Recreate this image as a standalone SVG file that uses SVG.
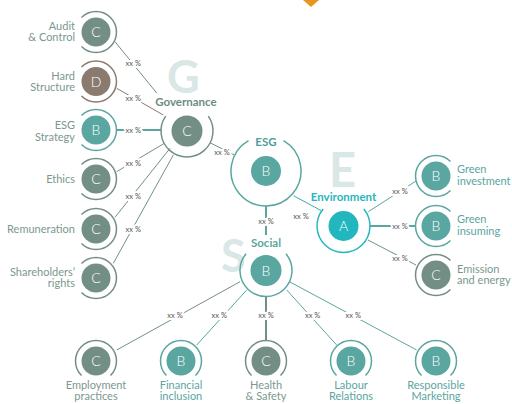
<svg xmlns="http://www.w3.org/2000/svg" width="512" height="404" viewBox="0 0 512 404">
<defs>
<style>
.bg{fill:#ffffff}
.big{font-family:Lato,"Open Sans",sans-serif;font-weight:700;fill:#d9e8e6}
.lbl{font-family:Lato,"Open Sans",sans-serif;font-size:11px}
.head{font-family:Lato,"Open Sans",sans-serif;font-size:11.5px;font-weight:700;text-anchor:middle}
.let{font-family:Lato,"Open Sans",sans-serif;font-size:14px;font-weight:300;fill:#ffffff;text-anchor:middle}
.pct{font-family:Lato,"Open Sans",sans-serif;font-size:7.5px;fill:#555555;text-anchor:middle;stroke:#ffffff;stroke-width:4px;paint-order:stroke;stroke-linejoin:round}
.ring{fill:none;stroke-width:1.5}
.cC{fill:#738f85}.sC{stroke:#738f85}
.cB{fill:#5aa6a0}.sB{stroke:#5aa6a0}
.cD{fill:#8a7b6e}.sD{stroke:#8a7b6e}
.cA{fill:#22b6bf}.sA{stroke:#22b6bf}
.tG{fill:#7b988f}.tB{fill:#5aa6a0}
.ln{fill:none;stroke-width:1}
.thk{stroke-width:2}
</style>
</defs>
<rect class="bg" x="0" y="0" width="512" height="404"/>
<polygon points="303,0 319,0 311,7" fill="#e8961e"/>

<g id="bigletters">
<text class="big" x="167" y="93" font-size="45">G</text>
<text class="big" x="329" y="187" font-size="47">E</text>
<text class="big" x="221" y="272" font-size="45">S</text>
</g>

<g id="connectors">
<line class="ln sC" x1="115" y1="41.7" x2="156.7" y2="93"/>
<line class="ln sD" x1="116.7" y1="88.3" x2="163.3" y2="115"/>
<line class="ln sB thk" x1="117" y1="130" x2="161" y2="130"/>
<line class="ln sC" x1="116.7" y1="171.7" x2="164" y2="143.5"/>
<line class="ln sC" x1="115" y1="217.3" x2="170" y2="148.3"/>
<line class="ln sC" x1="113.3" y1="263.3" x2="173.3" y2="155"/>
<line class="ln sC" x1="210.2" y1="142.8" x2="234.8" y2="155.2"/>
<line class="ln" stroke="#3aaab0" x1="293.5" y1="195.7" x2="321" y2="210.5"/>
<line class="ln sB thk" x1="266" y1="206" x2="266" y2="235"/>
<line class="ln sB" x1="368.3" y1="211.7" x2="416" y2="181"/>
<line class="ln sB thk" x1="370" y1="226" x2="415.5" y2="226"/>
<line class="ln sC" x1="368" y1="240" x2="416" y2="265"/>
<line class="ln sC" x1="240" y1="281.7" x2="116.7" y2="350"/>
<line class="ln sB" x1="246.7" y1="290" x2="196.7" y2="345"/>
<line class="ln sC thk" x1="266" y1="296.5" x2="266" y2="340.5"/>
<line class="ln sB" x1="286.7" y1="290" x2="336.7" y2="345"/>
<line class="ln sB" x1="290" y1="282" x2="416.7" y2="350"/>
<text class="pct" x="133.3" y="66">xx %</text>
<text class="pct" x="133.3" y="100.5">xx %</text>
<text class="pct" x="133.3" y="132.5">xx %</text>
<text class="pct" x="133.3" y="166">xx %</text>
<text class="pct" x="133.3" y="199">xx %</text>
<text class="pct" x="133.3" y="231.5">xx %</text>
<text class="pct" x="222" y="154.5">xx %</text>
<text class="pct" x="301" y="218.5">xx %</text>
<text class="pct" x="266" y="223.5">xx %</text>
<text class="pct" x="400" y="194">xx %</text>
<text class="pct" x="400" y="228.5">xx %</text>
<text class="pct" x="400" y="260.5">xx %</text>
<text class="pct" x="175" y="318">xx %</text>
<text class="pct" x="219.3" y="318">xx %</text>
<text class="pct" x="266" y="318">xx %</text>
<text class="pct" x="312.7" y="318">xx %</text>
<text class="pct" x="353.3" y="318">xx %</text>
</g>

<g id="governance">
<path class="ring sC" stroke-width="2" d="M208.3 116.1 A26 26 0 1 1 165.7 116.1"/>
<circle class="cC" cx="187" cy="131" r="15.5"/>
<text class="let" x="187" y="136">C</text>
<text class="head" x="186" y="105.5" fill="#6e8c83">Governance</text>
</g>

<g id="esg">
<path class="ring sB" stroke-width="3" d="M283.5 140.7 A35 35 0 1 1 248.5 140.7"/>
<circle class="cB" cx="266" cy="171" r="15"/>
<text class="let" x="266" y="176">B</text>
<text class="head" x="266" y="145.5" font-size="12.5" fill="#4f9e99">ESG</text>
</g>

<g id="environment">
<path class="ring sA" stroke-width="2.5" d="M363.8 209 A26.5 26.5 0 1 1 323.2 209"/>
<circle class="cA" cx="343.5" cy="226" r="15"/>
<text class="let" x="343.5" y="231">A</text>
<text class="head" x="343.5" y="200.5" fill="#2ab5bc">Environment</text>
</g>

<g id="social">
<path class="ring sB" stroke-width="2" d="M285.9 253.8 A26 26 0 1 1 246.1 253.8"/>
<circle class="cB" cx="266" cy="270.5" r="15.5"/>
<text class="let" x="266" y="275.5">B</text>
<text class="head" x="266" y="246.5" fill="#5aa6a0">Social</text>
</g>

<g id="audit">
<path class="ring sC" d="M81.5 17.5 A20.5 20.5 0 1 1 81.5 46.5"/>
<circle class="cC" cx="96" cy="32" r="14.5"/>
<text class="let" x="96" y="37">C</text>
<text class="lbl tG" text-anchor="end" x="75" y="29.5">Audit</text>
<text class="lbl tG" text-anchor="end" x="75" y="41">&amp; Control</text>
</g>

<g id="hard-structure">
<path class="ring sD" d="M81.5 67 A20.5 20.5 0 1 1 81.5 96"/>
<circle class="cD" cx="96" cy="81.5" r="14.5"/>
<text class="let" x="96" y="86.5">D</text>
<text class="lbl tG" text-anchor="end" x="75" y="79.5">Hard</text>
<text class="lbl tG" text-anchor="end" x="75" y="91">Structure</text>
</g>

<g id="esg-strategy">
<path class="ring sB" stroke-width="2" d="M81.5 115.5 A20.5 20.5 0 1 1 81.5 144.5"/>
<circle class="cB" cx="96" cy="130" r="14.5"/>
<text class="let" x="96" y="135">B</text>
<text class="lbl tG" text-anchor="end" x="75" y="129">ESG</text>
<text class="lbl tG" text-anchor="end" x="75" y="140.5">Strategy</text>
</g>

<g id="ethics">
<path class="ring sC" d="M81.5 164.5 A20.5 20.5 0 1 1 81.5 193.5"/>
<circle class="cC" cx="96" cy="179" r="14.5"/>
<text class="let" x="96" y="184">C</text>
<text class="lbl tG" text-anchor="end" x="75" y="183">Ethics</text>
</g>

<g id="remuneration">
<path class="ring sC" d="M81.5 214.5 A20.5 20.5 0 1 1 81.5 243.5"/>
<circle class="cC" cx="96" cy="229" r="14.5"/>
<text class="let" x="96" y="234">C</text>
<text class="lbl tG" text-anchor="end" x="75" y="233">Remuneration</text>
</g>

<g id="shareholders">
<path class="ring sC" d="M81.5 263.5 A20.5 20.5 0 1 1 81.5 292.5"/>
<circle class="cC" cx="96" cy="278" r="14.5"/>
<text class="let" x="96" y="283">C</text>
<text class="lbl tG" text-anchor="end" x="75" y="275.5">Shareholders’</text>
<text class="lbl tG" text-anchor="end" x="75" y="287">rights</text>
</g>

<g id="green-investment">
<path class="ring sB" d="M450.5 161.5 A20.5 20.5 0 1 0 450.5 190.5"/>
<circle class="cB" cx="436" cy="176" r="14.5"/>
<text class="let" x="436" y="181">B</text>
<text class="lbl tB" x="457" y="173">Green</text>
<text class="lbl tB" x="457" y="184.5">investment</text>
</g>

<g id="green-insuming">
<path class="ring sB" d="M450.5 211.5 A20.5 20.5 0 1 0 450.5 240.5"/>
<circle class="cB" cx="436" cy="226" r="14.5"/>
<text class="let" x="436" y="231">B</text>
<text class="lbl tB" x="457" y="223">Green</text>
<text class="lbl tB" x="457" y="234.5">insuming</text>
</g>

<g id="emission">
<path class="ring sC" d="M450.5 260.5 A20.5 20.5 0 1 0 450.5 289.5"/>
<circle class="cC" cx="436" cy="275" r="14.5"/>
<text class="let" x="436" y="280">C</text>
<text class="lbl tG" x="457" y="272.5">Emission</text>
<text class="lbl tG" x="457" y="284">and energy</text>
</g>

<g id="employment">
<path class="ring sC" d="M81.5 375.5 A20.5 20.5 0 1 1 110.5 375.5"/>
<circle class="cC" cx="96" cy="361" r="14.5"/>
<text class="let" x="96" y="366">C</text>
<text class="lbl tG" text-anchor="middle" x="96" y="388.5">Employment</text>
<text class="lbl tG" text-anchor="middle" x="96" y="400">practices</text>
</g>

<g id="financial">
<path class="ring sB" d="M166.5 375.5 A20.5 20.5 0 1 1 195.5 375.5"/>
<circle class="cB" cx="181" cy="361" r="14.5"/>
<text class="let" x="181" y="366">B</text>
<text class="lbl tB" text-anchor="middle" x="181" y="388.5">Financial</text>
<text class="lbl tB" text-anchor="middle" x="181" y="400">inclusion</text>
</g>

<g id="health">
<path class="ring sC" d="M251.5 375.5 A20.5 20.5 0 1 1 280.5 375.5"/>
<circle class="cC" cx="266" cy="361" r="14.5"/>
<text class="let" x="266" y="366">C</text>
<text class="lbl tG" text-anchor="middle" x="266" y="388.5">Health</text>
<text class="lbl tG" text-anchor="middle" x="266" y="400">&amp; Safety</text>
</g>

<g id="labour">
<path class="ring sB" d="M336.5 375.5 A20.5 20.5 0 1 1 365.5 375.5"/>
<circle class="cB" cx="351" cy="361" r="14.5"/>
<text class="let" x="351" y="366">B</text>
<text class="lbl tB" text-anchor="middle" x="351" y="388.5">Labour</text>
<text class="lbl tB" text-anchor="middle" x="351" y="400">Relations</text>
</g>

<g id="responsible">
<path class="ring sB" d="M421.5 375.5 A20.5 20.5 0 1 1 450.5 375.5"/>
<circle class="cB" cx="436" cy="361" r="14.5"/>
<text class="let" x="436" y="366">B</text>
<text class="lbl tB" text-anchor="middle" x="436" y="388.5">Responsible</text>
<text class="lbl tB" text-anchor="middle" x="436" y="400">Marketing</text>
</g>
</svg>
